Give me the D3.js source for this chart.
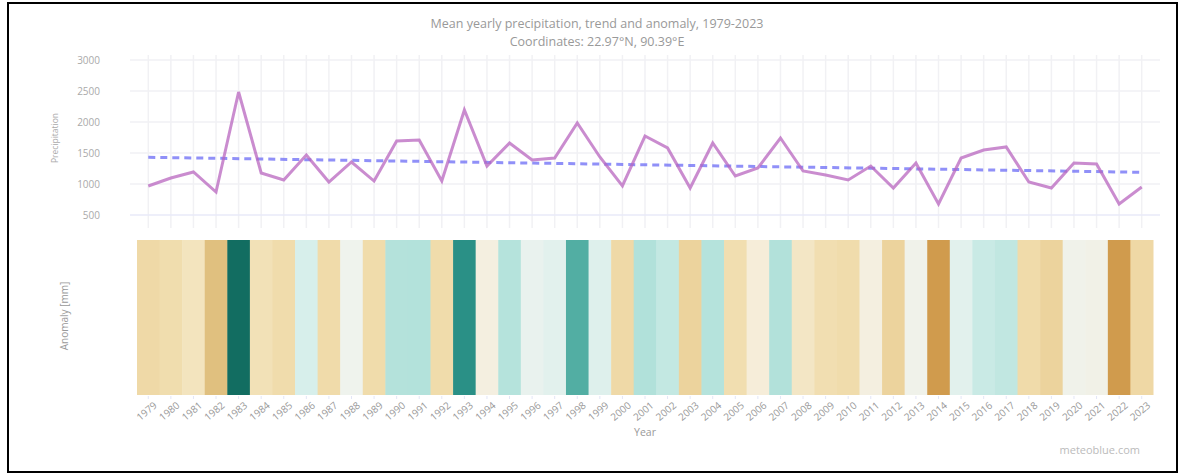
<!DOCTYPE html>
<html><head><meta charset="utf-8">
<script src="https://cdn.jsdelivr.net/npm/d3@7"></script>
<style>body{margin:0;background:#fff;font-family:"Open Sans",sans-serif}</style>
</head><body>
<svg id="c" width="1181" height="476"></svg>
<script>
const years = d3.range(1979, 2024);
const precipitation = [968,1097,1194,871,2484,1177,1065,1468,1032,1355,1048,1694,1710,1048,2194,1290,1661,1387,1419,1984,1436,968,1774,1581,935,1661,1129,1258,1742,1210,1145,1065,1290,935,1339,677,1419,1548,1597,1032,935,1339,1323,677,952];
const trendStart = 1431, trendEnd = 1189;
const yTicks = [500,1000,1500,2000,2500,3000];
const anomalyStops = [-650,-440,-360,-150,-50,50,150,350,500,650,880,1170];
const anomalyColors = ["#cf994a","#e0c080","#efd9a6","#f1dfb2","#f6eedb","#eef3ef","#d8efeb","#b5e3dc","#b0e0d9","#56b1a6","#2a9086","#126d61"];

const svg = d3.select("#c");
const x = d3.scaleBand().domain(years).range([137,1153]).padding(0);
const cx = d => x(d) + x.bandwidth()/2;
const y = d3.scaleLinear().domain([500,3000]).range([215,60]);
const mean = d3.mean(precipitation);
const color = d3.scaleLinear().domain(anomalyStops).range(anomalyColors).clamp(true);

// frame
svg.append("rect").attr("x",8).attr("y",3).attr("width",1169).attr("height",469)
  .attr("fill","none").attr("stroke","#000").attr("stroke-width",2);

// title
svg.append("text").attr("x",597).attr("y",28).attr("text-anchor","middle")
  .attr("font-size",12.5).attr("fill","#999").text("Mean yearly precipitation, trend and anomaly, 1979-2023");
svg.append("text").attr("x",597).attr("y",46).attr("text-anchor","middle")
  .attr("font-size",12.5).attr("fill","#999").text("Coordinates: 22.97°N, 90.39°E");

// grid
const g = svg.append("g");
g.selectAll(".vg").data(years).join("line")
  .attr("x1",d=>cx(d)).attr("x2",d=>cx(d)).attr("y1",55).attr("y2",228)
  .attr("stroke","#f1f1f4").attr("stroke-width",1.5);
g.selectAll(".hg").data(yTicks).join("line")
  .attr("x1",130).attr("x2",1160).attr("y1",d=>y(d)).attr("y2",d=>y(d))
  .attr("stroke",d=>d===500?"#e8eaf8":"#f1f1f4").attr("stroke-width",1.5);

// y axis
const ya = svg.append("g").attr("transform","translate(106,0)")
  .call(d3.axisLeft(y).tickValues(yTicks).tickSize(0).tickPadding(6).tickFormat(d=>d));
ya.select(".domain").remove();
ya.selectAll("text").attr("font-size",10).attr("fill","#aaa").attr("font-family","Open Sans, sans-serif");

svg.append("text").attr("transform","translate(58,138) rotate(-90)").attr("text-anchor","middle")
  .attr("font-size",8.5).attr("fill","#aaa").text("Precipitation");
svg.append("text").attr("transform","translate(68,316) rotate(-90)").attr("text-anchor","middle")
  .attr("font-size",10).attr("fill","#999").text("Anomaly [mm]");

// anomaly bars
svg.selectAll(".bar").data(years).join("rect")
  .attr("x",d=>x(d)).attr("width",x.bandwidth()+0.5).attr("y",240).attr("height",155)
  .attr("fill",(d,i)=>color(precipitation[i]-mean));

// trend
svg.append("line").attr("x1",cx(years[0])).attr("x2",cx(years[years.length-1]))
  .attr("y1",y(trendStart)).attr("y2",y(trendEnd))
  .attr("stroke","#6b6bf5").attr("stroke-opacity",0.75).attr("stroke-width",3).attr("stroke-dasharray","7,5");

// line
svg.append("path").datum(precipitation)
  .attr("d",d3.line().x((d,i)=>cx(years[i])).y(d=>y(d)))
  .attr("fill","none").attr("stroke","#b865bf").attr("stroke-opacity",0.75).attr("stroke-width",3);

// x axis
const xa = svg.append("g").attr("transform","translate(0,396)")
  .call(d3.axisBottom(x).tickSize(3).tickPadding(2));
xa.select(".domain").remove();
xa.selectAll("line").attr("stroke","#e3e6f6");
xa.selectAll("text").attr("font-size",10).attr("fill","#999").attr("font-family","Open Sans, sans-serif")
  .attr("text-anchor","end").attr("transform","translate(4,4) rotate(-40)").attr("dy","0.35em").attr("dx","0");

svg.append("text").attr("x",645).attr("y",436).attr("text-anchor","middle")
  .attr("font-size",10.5).attr("fill","#999").text("Year");
svg.append("text").attr("x",1140).attr("y",454).attr("text-anchor","end")
  .attr("font-size",11).attr("fill","#bbb").text("meteoblue.com");
</script>
</body></html>
